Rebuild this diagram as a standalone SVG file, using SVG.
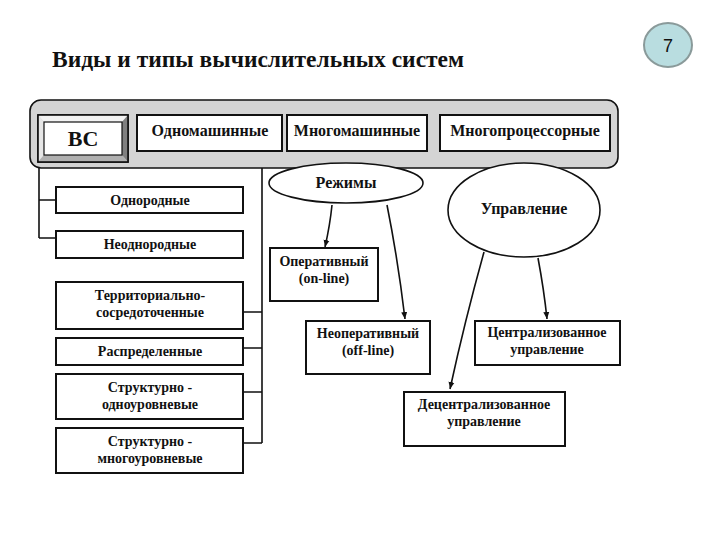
<svg xmlns="http://www.w3.org/2000/svg" width="720" height="540" viewBox="0 0 720 540">
<defs>
<style>
.t{font-family:"Liberation Serif","Times New Roman",serif;font-weight:bold;font-size:14px;fill:#111;text-anchor:middle}
.big{font-size:16px}
.box{fill:#fff;stroke:#111;stroke-width:2}
.ln{fill:none;stroke:#111;stroke-width:1.6}
.ar{fill:none;stroke:#111;stroke-width:1.6;marker-end:url(#ah)}
</style>
<marker id="ah" markerWidth="8" markerHeight="8" refX="7" refY="4" orient="auto" markerUnits="userSpaceOnUse">
<path d="M0,1 L7,4 L0,7 Z" fill="#111"/>
</marker>
</defs>
<rect width="720" height="540" fill="#fff"/>
<text x="52" y="67" font-family="Liberation Serif,serif" font-weight="bold" font-size="23.5" fill="#111">Виды и типы вычислительных систем</text>
<g id="page-num">
<ellipse cx="668" cy="45" rx="24" ry="22" fill="#b9dde0" stroke="#8a9a9a" stroke-width="2"/>
<text x="668" y="52" font-family="Liberation Sans,Arial,sans-serif" font-size="18" text-anchor="middle" fill="#111">7</text>
</g>
<g id="connectors">
<path class="ln" d="M39,168 V238 M39,200 H56 M39,238 H56"/>
<path class="ln" d="M262,168 V443 M243,312 H262 M243,348 H262 M243,392 H262 M243,443 H262"/>
<path class="ar" d="M332,205 Q330,225 325,247"/>
<path class="ar" d="M387,205 Q398,260 405,319"/>
<path class="ar" d="M484,252 Q465,320 450,389"/>
<path class="ar" d="M538,258 Q544,290 547,319"/>
</g>
<g id="header">
<rect x="30" y="100" width="588" height="68" rx="11" fill="#d4d4d4" stroke="#111" stroke-width="1.6"/>
</g>
<g id="vs">
<rect x="38" y="115" width="90" height="47" fill="#c8c8c8" stroke="#111" stroke-width="1.6"/>
<polygon points="38,115 128,115 122,122 44,122" fill="#f2f2f2"/>
<polygon points="38,115 44,122 44,155 38,162" fill="#e6e6e6"/>
<polygon points="128,115 128,162 122,155 122,122" fill="#808080"/>
<polygon points="38,162 128,162 122,155 44,155" fill="#b0b0b0"/>
<rect x="38" y="115" width="90" height="47" fill="none" stroke="#111" stroke-width="1.6"/>
<rect x="44" y="122" width="78" height="33" fill="#fff" stroke="#111" stroke-width="1.2"/>
<text class="t" x="83" y="146" style="font-size:22px">ВС</text>
</g>
<g id="odnomash"><rect class="box" x="137" y="115" width="145" height="36"/><text class="t big" x="210" y="136">Одномашинные</text></g>
<g id="mnogomash"><rect class="box" x="287" y="115" width="140" height="36"/><text class="t big" x="357" y="136">Многомашинные</text></g>
<g id="mnogoproc"><rect class="box" x="440" y="115" width="170" height="36"/><text class="t big" x="525" y="136">Многопроцессорные</text></g>
<g id="odnorod"><rect class="box" x="56" y="187" width="187" height="26"/><text class="t" x="150" y="205">Однородные</text></g>
<g id="neodnorod"><rect class="box" x="56" y="231" width="187" height="27"/><text class="t" x="150" y="249">Неоднородные</text></g>
<g id="territ"><rect class="box" x="56" y="282" width="187" height="47"/><text class="t" x="150" y="300">Территориально-</text><text class="t" x="150" y="317">сосредоточенные</text></g>
<g id="raspred"><rect class="box" x="56" y="338" width="187" height="27"/><text class="t" x="150" y="356">Распределенные</text></g>
<g id="odnour"><rect class="box" x="56" y="374" width="187" height="45"/><text class="t" x="150" y="392">Структурно -</text><text class="t" x="150" y="409">одноуровневые</text></g>
<g id="mnogour"><rect class="box" x="56" y="428" width="187" height="45"/><text class="t" x="150" y="446">Структурно -</text><text class="t" x="150" y="463">многоуровневые</text></g>
<g id="rezhimy"><ellipse cx="346" cy="183" rx="77" ry="20" fill="#fff" stroke="#111" stroke-width="1.6"/><text class="t big" x="346" y="188">Режимы</text></g>
<g id="upravlenie"><ellipse cx="524" cy="210" rx="76" ry="47" fill="#fff" stroke="#111" stroke-width="1.6"/><text class="t big" x="524" y="214">Управление</text></g>
<g id="operat"><rect class="box" x="270" y="248" width="108" height="53"/><text class="t" x="324" y="266">Оперативный</text><text class="t" x="324" y="283">(on-line)</text></g>
<g id="neoperat"><rect class="box" x="306" y="321" width="124" height="53"/><text class="t" x="368" y="338">Неоперативный</text><text class="t" x="368" y="355">(off-line)</text></g>
<g id="central"><rect class="box" x="475" y="321" width="145" height="44"/><text class="t" x="547" y="337">Централизованное</text><text class="t" x="547" y="354">управление</text></g>
<g id="decentral"><rect class="box" x="404" y="392" width="161" height="54"/><text class="t" x="484" y="409">Децентрализованное</text><text class="t" x="484" y="426">управление</text></g>
</svg>
